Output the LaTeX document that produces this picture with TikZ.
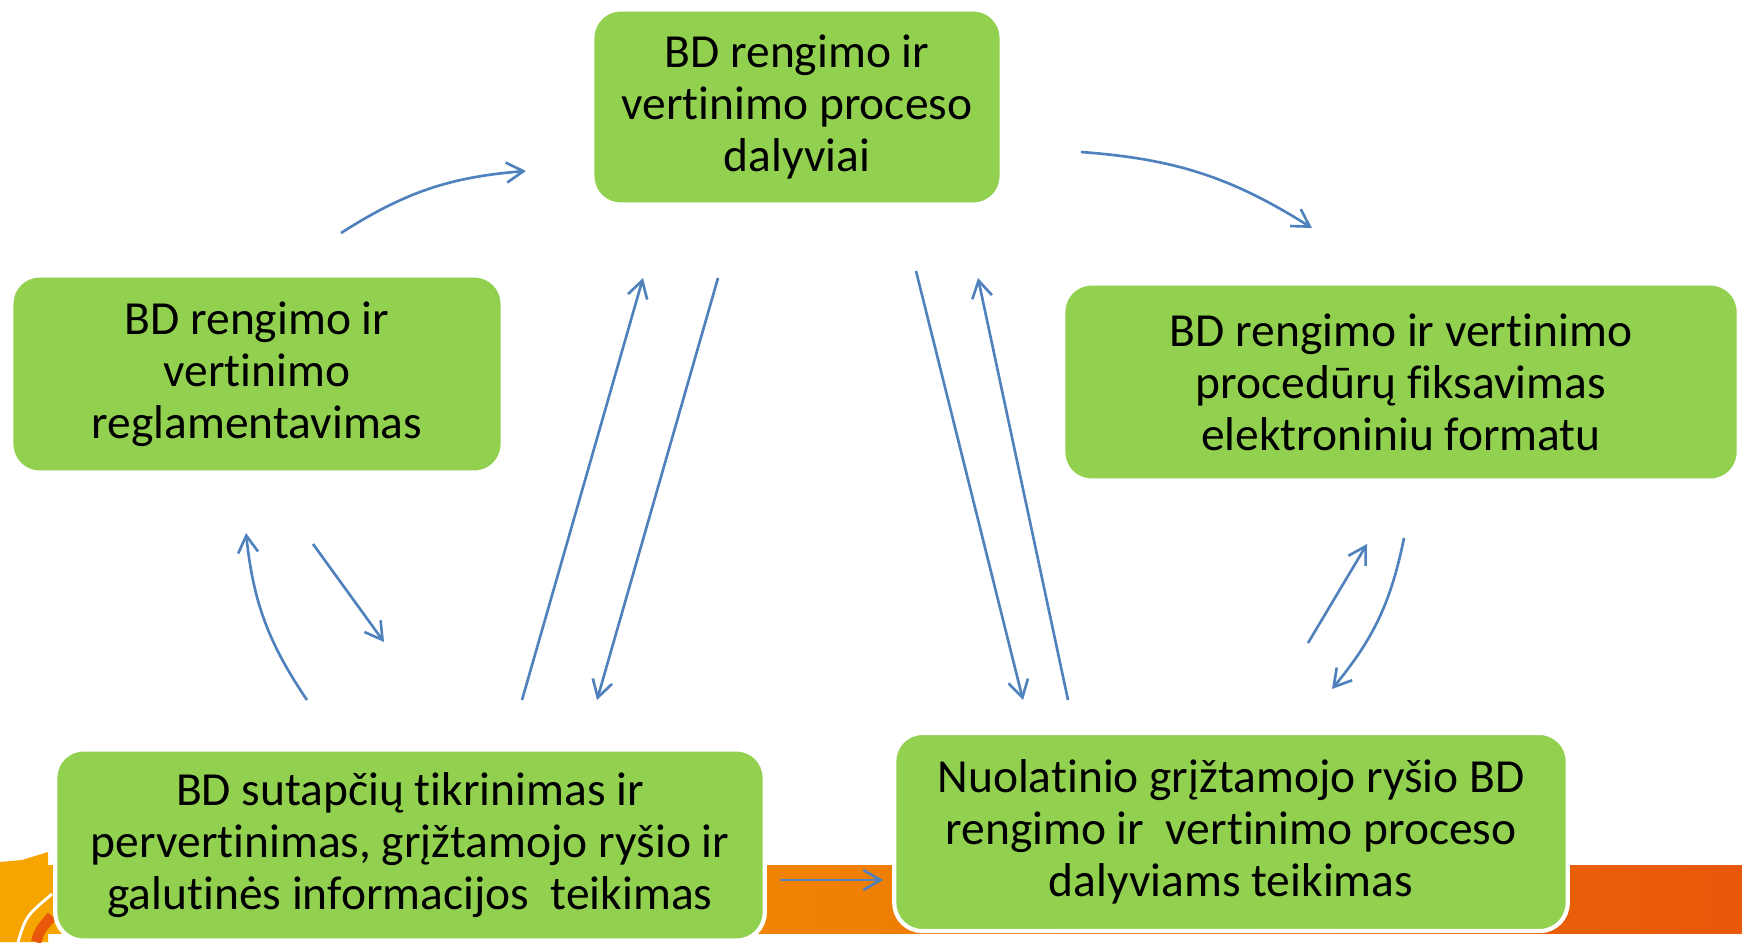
\documentclass[tikz,border=0pt]{standalone}
\usepackage{fontspec}
\setmainfont{Carlito}[RawFeature = {-liga;-clig;-calt;-dlig}]
\usepackage{tikz}
\usetikzlibrary{arrows.meta,positioning}
\definecolor{boxgreen}{HTML}{92D050}
\definecolor{flowblue}{HTML}{4F81BD}
\definecolor{bandleft}{HTML}{F6A500}
\definecolor{bandright}{HTML}{E8570A}

\begin{document}
\begin{tikzpicture}[x=0.01cm, y=-0.01cm,
  stage/.style = {fill = boxgreen, draw = white, line width = 1.2pt, shape = rectangle, rounded corners = 0.28cm, align = center, font = \fontsize{13.5}{14.8}\selectfont, inner sep = 0pt},
  flow/.style = {draw = flowblue, line width = 0.75pt, -{Straight Barb[length = 0.17cm, width = 0.2cm]}}]
\useasboundingbox (0,0) rectangle (1742,942);
% orange band at the bottom
\shade[left color = bandleft, right color = bandright] (40,865) rectangle (1742,933);
\fill[bandleft] (0,862) -- (22,860) -- (48,852) -- (48,942) -- (0,942) -- cycle;
\draw[white, line width = 0.8pt] (18,942) .. controls (26,916) .. (52,894);
\draw[bandright, line width = 3pt] (36,942) .. controls (40,930) .. (52,916);
% stages
\node[stage, minimum width = 4.09cm, minimum height = 1.95cm] (dalyviai) at (797,107) {BD rengimo ir\\vertinimo proceso\\dalyviai};
\node[stage, minimum width = 4.91cm, minimum height = 1.97cm] (reglam) at (257,374) {BD rengimo ir\\vertinimo\\reglamentavimas};
\node[stage, minimum width = 6.75cm, minimum height = 1.97cm] (fiksav) at (1401,382) {BD rengimo ir vertinimo\\procedūrų fiksavimas\\elektroniniu formatu};
\node[stage, minimum width = 7.09cm, minimum height = 1.91cm] (tikrin) at (410,845) {BD sutapčių tikrinimas ir\\pervertinimas, grįžtamojo ryšio ir\\galutinės informacijos\ \ teikimas};
\node[stage, minimum width = 6.73cm, minimum height = 1.98cm] (grizt) at (1231,832) {Nuolatinio grįžtamojo ryšio BD\\rengimo ir\ \ vertinimo proceso\\dalyviams teikimas};
% arrow ends
\coordinate (r1) at (341,233); \coordinate (d1) at (526,171);
\coordinate (d2) at (1081,152); \coordinate (f2) at (1312,228);
\coordinate (t3) at (522,700); \coordinate (d3) at (643,278);
\coordinate (d4) at (718,278); \coordinate (t4) at (597,700);
\coordinate (d5) at (916,271); \coordinate (g5) at (1023,700);
\coordinate (g6) at (1068,700); \coordinate (d6) at (978,278);
\coordinate (g7) at (1308,643); \coordinate (f7) at (1367,544);
\coordinate (f8) at (1404,538); \coordinate (g8) at (1332,689);
\coordinate (t9) at (307,700); \coordinate (r9) at (246,533);
\coordinate (r10) at (313,544); \coordinate (t10) at (384,642);
\coordinate (t11) at (780,880); \coordinate (g11) at (883,880);
% connectors
\draw[flow] (r1) to[bend left = 14] (d1);
\draw[flow] (d2) to[bend left = 14] (f2);
\draw[flow] (t3) -- (d3);
\draw[flow] (d4) -- (t4);
\draw[flow] (d5) -- (g5);
\draw[flow] (g6) -- (d6);
\draw[flow] (g7) -- (f7);
\draw[flow] (f8) to[bend left = 14] (g8);
\draw[flow] (t9) to[bend left = 14] (r9);
\draw[flow] (r10) -- (t10);
\draw[flow] (t11) -- (g11);
\end{tikzpicture}
\end{document}
